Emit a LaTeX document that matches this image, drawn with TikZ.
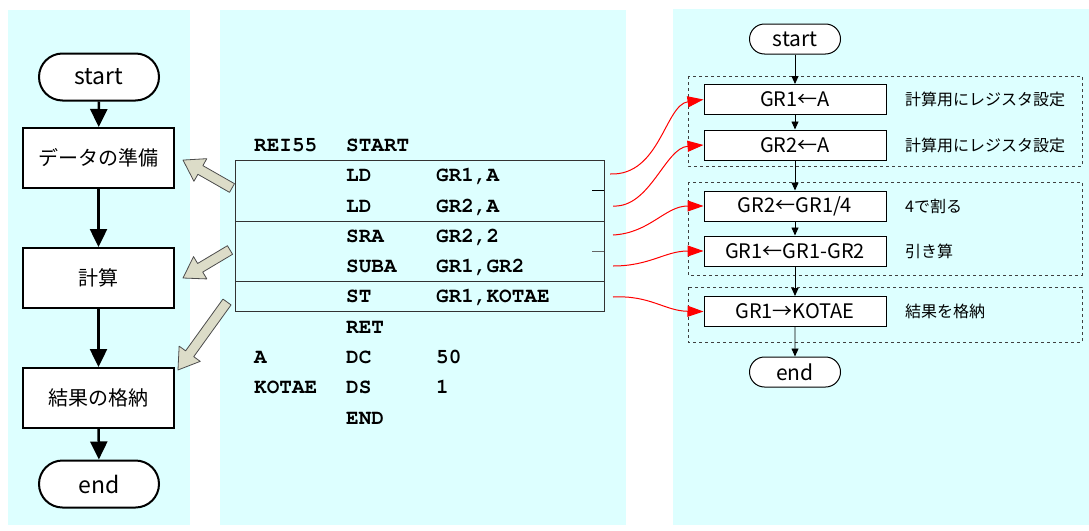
\documentclass[tikz,border=0pt]{standalone}
\usepackage[T1]{fontenc}
\usepackage{fontspec}
\setmainfont{Noto Sans CJK JP}
\newcommand\codefnt{\fontencoding{T1}\fontfamily{pcr}\fontseries{b}\fontshape{n}\fontsize{21}{24}\selectfont}
\usetikzlibrary{arrows.meta,shapes.misc}
\definecolor{panel}{RGB}{221,255,255}
\definecolor{beige}{RGB}{220,220,200}
\begin{document}
\begin{tikzpicture}[x=1pt,y=1pt,
  panelbg/.style={fill=panel,draw=none},
  lterm/.style={draw,rounded rectangle,line width=2pt,minimum width=120pt,minimum height=47pt,inner sep=0pt,font=\fontsize{23}{26}\selectfont},
  lbox/.style={draw,rectangle,line width=2pt,minimum width=151pt,minimum height=60pt,inner sep=0pt,font=\fontsize{20}{24}\selectfont,fill=white},
  rterm/.style={draw,rounded rectangle,line width=1pt,minimum width=91pt,minimum height=30pt,inner sep=0pt,fill=white,font=\fontsize{21}{24}\selectfont},
  rbox/.style={draw,rectangle,line width=1pt,minimum width=182pt,minimum height=30pt,inner sep=0pt,fill=white,font=\fontsize{20}{24}\selectfont},
  rlabel/.style={anchor=west,inner sep=0pt,font=\fontsize{16}{20}\selectfont},
  grp/.style={draw=black!75,dashed,line width=0.8pt},
  code/.style={anchor=base west,inner sep=0pt,font=\codefnt},
  codebox/.style={draw=black!80,line width=1pt},
  lflow/.style={-{Triangle[length=18pt,width=17pt]},line width=2.5pt},
  rflow/.style={-{Triangle[length=8pt,width=7pt]},line width=0.9pt},
  redarr/.style={red,line width=1pt,-{Triangle[length=16pt,width=11pt]}},
  blockarr/.style={fill=beige,draw=black!70,line width=0.8pt,line join=round}
]
\useasboundingbox[fill=white] (0,0) rectangle (1089,-530);
% panels
\fill[panelbg] (8,-10) rectangle (190,-525);
\fill[panelbg] (220,-10) rectangle (626,-525);
\fill[panelbg] (673,-9) rectangle (1089,-525);

% left flowchart
\node[lterm,fill=white] (ls) at (99,-77) {start};
\node[lbox] (lb1) at (98.5,-158) {データの準備};
\node[lbox] (lb2) at (98.5,-278) {計算};
\node[lbox] (lb3) at (98.5,-398) {結果の格納};
\node[lterm,fill=white] (le) at (99,-484) {end};
\draw[lflow] (ls) -- (lb1);
\draw[lflow] (lb1) -- (lb2);
\draw[lflow] (lb2) -- (lb3);
\draw[lflow] (lb3) -- (le);

% block arrows
\begin{scope}[shift={(232,-188)},rotate=150.3]
  \draw[blockarr] (0,5) -- (36.4,5) -- (36.4,13) -- (56.4,0) -- (36.4,-13) -- (36.4,-5) -- (0,-5) -- cycle;
\end{scope}
\begin{scope}[shift={(230,-250)},rotate=210.8]
  \draw[blockarr] (0,5) -- (34.7,5) -- (34.7,13) -- (54.7,0) -- (34.7,-13) -- (34.7,-5) -- (0,-5) -- cycle;
\end{scope}
\begin{scope}[shift={(227,-302)},rotate=234.2]
  \draw[blockarr] (0,5) -- (63.8,5) -- (63.8,13) -- (83.8,0) -- (63.8,-13) -- (63.8,-5) -- (0,-5) -- cycle;
\end{scope}

% code boxes
\draw[codebox] (235,-160) rectangle (604,-221);
\draw[codebox] (235,-221) rectangle (604,-281);
\draw[codebox] (235,-281) rectangle (604,-311);
\draw[line width=0.8pt] (592,-190) -- (604,-190);
\draw[line width=0.8pt,black!60] (592,-251) -- (604,-251);

% code text
\node[code] (c0a) at (254,-151) {REI55};
\node[code] (c0b) at (346,-151) {START};
\node[code] (c1a) at (346,-181.5) {LD};
\node[code] (c1b) at (436,-181.5) {GR1,A};
\node[code] (c2a) at (346,-212) {LD};
\node[code] (c2b) at (436,-212) {GR2,A};
\node[code] (c3a) at (346,-242) {SRA};
\node[code] (c3b) at (436,-242) {GR2,2};
\node[code] (c4a) at (346,-272) {SUBA};
\node[code] (c4b) at (436,-272) {GR1,GR2};
\node[code] (c5a) at (346,-302) {ST};
\node[code] (c5b) at (436,-302) {GR1,KOTAE};
\node[code] (c6a) at (346,-333) {RET};
\node[code] (c7l) at (254,-363) {A};
\node[code] (c7a) at (346,-363) {DC};
\node[code] (c7b) at (436,-363) {50};
\node[code] (c8l) at (254,-393) {KOTAE};
\node[code] (c8a) at (346,-393) {DS};
\node[code] (c8b) at (436,-393) {1};
\node[code] (c9a) at (346,-424) {END};

% right groups
\draw[grp] (688,-76) rectangle (1082,-166);
\draw[grp] (688,-182) rectangle (1082,-275);
\draw[grp] (688,-287) rectangle (1082,-342);

% right flowchart
\node[rterm] (rs) at (795,-39) {start};
\node[rbox] (r1) at (795,-99.5) {GR1←A};
\node[rbox] (r2) at (795,-145) {GR2←A};
\node[rbox] (r3) at (795,-206) {GR2←GR1/4};
\node[rbox] (r4) at (795,-251) {GR1←GR1-GR2};
\node[rbox] (r5) at (795,-311.5) {GR1→KOTAE};
\node[rterm] (re) at (795,-372) {end};
\draw[rflow] (rs) -- (r1);
\draw[rflow] (r1) -- (r2);
\draw[rflow] (r2) -- (r3);
\draw[rflow] (r3) -- (r4);
\draw[rflow] (r4) -- (r5);
\draw[rflow] (r5) -- (re);

\node[rlabel] (l1) at (905,-99.5) {計算用にレジスタ設定};
\node[rlabel] (l2) at (905,-145) {計算用にレジスタ設定};
\node[rlabel] (l3) at (905,-206) {4で割る};
\node[rlabel] (l4) at (905,-251) {引き算};
\node[rlabel] (l5) at (905,-311.5) {結果を格納};

% red connectors
\coordinate (p1) at (610,-174);
\coordinate (p2) at (613,-206);
\coordinate (p3) at (613,-235);
\coordinate (p4) at (613,-266);
\coordinate (p5) at (613,-297);
\draw[redarr] (p1) .. controls (660,-176) and (665,-105) .. (r1.west);
\draw[redarr] (p2) .. controls (650,-208) and (665,-148) .. (r2.west);
\draw[redarr] (p3) .. controls (650,-233) and (665,-206) .. (r3.west);
\draw[redarr] (p4) .. controls (650,-266) and (665,-251) .. (r4.west);
\draw[redarr] (p5) .. controls (650,-295) and (665,-311) .. (r5.west);
\end{tikzpicture}
\end{document}
